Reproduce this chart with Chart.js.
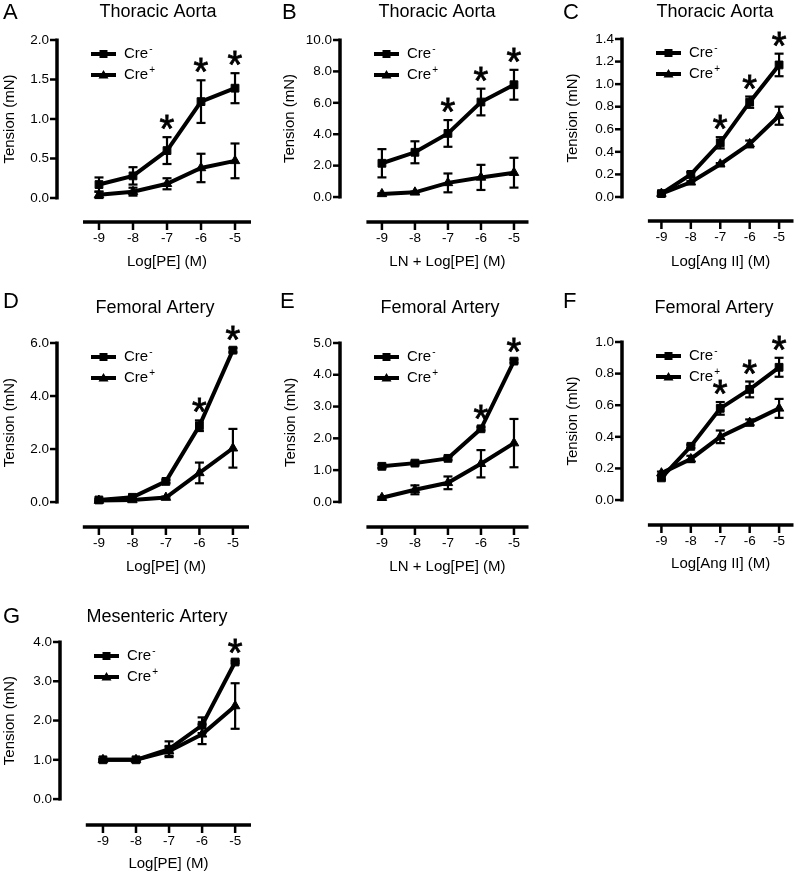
<!DOCTYPE html>
<html>
<head>
<meta charset="utf-8">
<script src="https://cdn.jsdelivr.net/npm/chart.js@4.4.1/dist/chart.umd.min.js"></script>
<style>
    body { margin: 0; background: #fff; }
    #fig { position: relative; width: 800px; height: 872px; overflow: hidden; }
    #fig canvas { position: absolute; }
</style>
</head>
<body>
<div id="fig"></div>
<script>
const doses = [-9, -8, -7, -6, -5];

// A - Thoracic Aorta, PE
const aCreNeg = [0.17, 0.28, 0.60, 1.22, 1.39];
const aCreNegErr = [0.09, 0.11, 0.17, 0.27, 0.19];
const aCrePos = [0.04, 0.08, 0.18, 0.38, 0.47];
const aCrePosErr = [0.04, 0.05, 0.07, 0.18, 0.22];
const aStars = [0, 0, 1, 1, 1];
const aTicks = [0, 0.5, 1.0, 1.5, 2.0];

// B - Thoracic Aorta, LN + PE
const bCreNeg = [2.15, 2.85, 4.05, 6.05, 7.15];
const bCreNegErr = [0.9, 0.7, 0.85, 0.85, 0.95];
const bCrePos = [0.2, 0.3, 0.9, 1.25, 1.55];
const bCrePosErr = [0.05, 0.05, 0.6, 0.8, 0.95];
const bStars = [0, 0, 1, 1, 1];
const bTicks = [0, 2, 4, 6, 8, 10];

// C - Thoracic Aorta, Ang II
const cCreNeg = [0.03, 0.20, 0.48, 0.84, 1.17];
const cCreNegErr = [0.01, 0.02, 0.05, 0.05, 0.10];
const cCrePos = [0.03, 0.13, 0.29, 0.47, 0.72];
const cCrePosErr = [0.01, 0.01, 0.01, 0.03, 0.08];
const cStars = [0, 0, 1, 1, 1];
const cTicks = [0, 0.2, 0.4, 0.6, 0.8, 1.0, 1.2, 1.4];

// D - Femoral Artery, PE
const dCreNeg = [0.08, 0.18, 0.78, 2.88, 5.73];
const dCreNegErr = [0.05, 0.05, 0.06, 0.2, 0.08];
const dCrePos = [0.06, 0.08, 0.17, 1.1, 2.03];
const dCrePosErr = [0.03, 0.04, 0.04, 0.39, 0.73];
const dStars = [0, 0, 0, 1, 1];
const dTicks = [0, 2, 4, 6];

// E - Femoral Artery, LN + PE
const eCreNeg = [1.12, 1.22, 1.37, 2.3, 4.43];
const eCreNegErr = [0.05, 0.05, 0.05, 0.05, 0.05];
const eCrePos = [0.13, 0.38, 0.6, 1.2, 1.85];
const eCrePosErr = [0.03, 0.14, 0.2, 0.43, 0.76];
const eStars = [0, 0, 0, 1, 1];
const eTicks = [0, 1, 2, 3, 4, 5];

// F - Femoral Artery, Ang II
const fCreNeg = [0.14, 0.34, 0.58, 0.70, 0.84];
const fCreNegErr = [0.01, 0.01, 0.04, 0.05, 0.06];
const fCrePos = [0.17, 0.26, 0.40, 0.49, 0.58];
const fCrePosErr = [0.01, 0.02, 0.04, 0.02, 0.06];
const fStars = [0, 0, 1, 1, 1];
const fTicks = [0, 0.2, 0.4, 0.6, 0.8, 1.0];

// G - Mesenteric Artery, PE
const gCreNeg = [1.0, 1.0, 1.27, 1.88, 3.49];
const gCreNegErr = [0.02, 0.02, 0.2, 0.2, 0.03];
const gCrePos = [1.0, 1.0, 1.22, 1.65, 2.37];
const gCrePosErr = [0.02, 0.02, 0.12, 0.25, 0.58];
const gStars = [0, 0, 0, 0, 1];
const gTicks = [0, 1, 2, 3, 4];

const FONT = "'Liberation Sans', Arial, Helvetica, sans-serif";

// layout of each panel (pixels in the 800x872 figure)
const panels = [
    { letter: 'A', title: 'Thoracic Aorta', xTitle: 'Log[PE] (M)',
      neg: aCreNeg, negErr: aCreNegErr, pos: aCrePos, posErr: aCrePosErr, stars: aStars, yTicks: aTicks,
      box: [0, 0, 260, 285], area: [57, 40, 251, 222], xMin: -10.235, xMax: -4.53, xLineFrom: -9.47, yMin: -0.304,
      letterAt: [3, 13], titleAt: [158, 12], yTitleX: 10, xTitleY: 262 },
    { letter: 'B', title: 'Thoracic Aorta', xTitle: 'LN + Log[PE] (M)',
      neg: bCreNeg, negErr: bCreNegErr, pos: bCrePos, posErr: bCrePosErr, stars: bStars, yTicks: bTicks,
      box: [260, 0, 275, 285], area: [340, 40, 533, 222], xMin: -10.27, xMax: -4.56, xLineFrom: -9.47, yMin: -1.59,
      letterAt: [282, 13], titleAt: [437, 12], yTitleX: 290, xTitleY: 262 },
    { letter: 'C', title: 'Thoracic Aorta', xTitle: 'Log[Ang II] (M)',
      neg: cCreNeg, negErr: cCreNegErr, pos: cCrePos, posErr: cCrePosErr, stars: cStars, yTicks: cTicks,
      box: [535, 0, 265, 285], area: [622, 39, 800, 221], xMin: -10.34, xMax: -4.51, xLineFrom: -9.46, yMin: -0.213,
      letterAt: [563, 13], titleAt: [715, 12], yTitleX: 573, xTitleY: 262 },
    { letter: 'D', title: 'Femoral Artery', xTitle: 'Log[PE] (M)',
      neg: dCreNeg, negErr: dCreNegErr, pos: dCrePos, posErr: dCrePosErr, stars: dStars, yTicks: dTicks,
      box: [0, 290, 260, 290], area: [57, 343, 249, 527], xMin: -10.25, xMax: -4.52, xLineFrom: -9.48, yMin: -0.94,
      letterAt: [3, 302], titleAt: [155, 308], yTitleX: 10, xTitleY: 567 },
    { letter: 'E', title: 'Femoral Artery', xTitle: 'LN + Log[PE] (M)',
      neg: eCreNeg, negErr: eCreNegErr, pos: eCrePos, posErr: eCrePosErr, stars: eStars, yTicks: eTicks,
      box: [260, 290, 275, 290], area: [340, 343, 533, 527], xMin: -10.27, xMax: -4.56, xLineFrom: -9.47, yMin: -0.79,
      letterAt: [280, 302], titleAt: [440, 308], yTitleX: 291, xTitleY: 567 },
    { letter: 'F', title: 'Femoral Artery', xTitle: 'Log[Ang II] (M)',
      neg: fCreNeg, negErr: fCreNegErr, pos: fCrePos, posErr: fCrePosErr, stars: fStars, yTicks: fTicks,
      box: [535, 290, 265, 290], area: [622, 342, 800, 525], xMin: -10.34, xMax: -4.51, xLineFrom: -9.46, yMin: -0.158,
      letterAt: [563, 302], titleAt: [714, 308], yTitleX: 573, xTitleY: 564 },
    { letter: 'G', title: 'Mesenteric Artery', xTitle: 'Log[PE] (M)',
      neg: gCreNeg, negErr: gCreNegErr, pos: gCrePos, posErr: gCrePosErr, stars: gStars, yTicks: gTicks,
      box: [0, 580, 260, 292], area: [60, 642, 251, 825], xMin: -10.3, xMax: -4.52, xLineFrom: -9.52, yMin: -0.66,
      letterAt: [3, 617], titleAt: [157, 617], yTitleX: 10, xTitleY: 864 }
];

function strokeLine(ctx, x1, y1, x2, y2) {
    ctx.beginPath();
    ctx.moveTo(x1, y1);
    ctx.lineTo(x2, y2);
    ctx.stroke();
}

function drawMarker(ctx, style, x, y) {
    ctx.beginPath();
    if (style === 'rect') {
        ctx.rect(x - 4, y - 4, 8, 8);
    } else {
        ctx.moveTo(x, y - 5);
        ctx.lineTo(x + 5, y + 3.5);
        ctx.lineTo(x - 5, y + 3.5);
        ctx.closePath();
    }
    ctx.fill();
}

// Prism-style decorations: detached axes, error bars, asterisks, legend, titles
const prismPlugin = {
    id: 'prism',
    afterDatasetsDraw(chart, args, opts) {
        const p = opts.panel;
        const ctx = chart.ctx;
        const xs = chart.scales.x, ys = chart.scales.y;
        ctx.save();
        ctx.strokeStyle = '#000';
        ctx.fillStyle = '#000';
        ctx.lineCap = 'butt';

        // error bars
        [[p.neg, p.negErr], [p.pos, p.posErr]].forEach(([vals, errs]) => {
            vals.forEach((v, i) => {
                const x = xs.getPixelForValue(doses[i]);
                const top = ys.getPixelForValue(v + errs[i]);
                const bot = ys.getPixelForValue(v - errs[i]);
                ctx.lineWidth = 2.2;
                strokeLine(ctx, x, top, x, bot);
                strokeLine(ctx, x - 4.5, top, x + 4.5, top);
                strokeLine(ctx, x - 4.5, bot, x + 4.5, bot);
            });
        });

        // significance asterisks
        ctx.font = `38px ${FONT}`;
        ctx.textAlign = 'center';
        ctx.textBaseline = 'alphabetic';
        ctx.strokeStyle = '#000';
        ctx.lineWidth = 0.8;
        p.stars.forEach((s, i) => {
            if (!s) return;
            const x = xs.getPixelForValue(doses[i]);
            const top = ys.getPixelForValue(p.neg[i] + p.negErr[i]);
            ctx.fillText('*', x, top + 5);
            ctx.strokeText('*', x, top + 5);
        });
        ctx.restore();
    },
    afterDraw(chart, args, opts) {
        const p = opts.panel;
        const ctx = chart.ctx;
        const xs = chart.scales.x, ys = chart.scales.y;
        const area = chart.chartArea;
        const ox = p.box[0], oy = p.box[1];
        ctx.save();
        ctx.strokeStyle = '#000';
        ctx.fillStyle = '#000';

        // y axis
        const yBot = ys.getPixelForValue(p.yTicks[0]);
        const yTop = ys.getPixelForValue(p.yTicks[p.yTicks.length - 1]);
        ctx.lineWidth = 3.5;
        strokeLine(ctx, area.left, yBot + 1.5, area.left, yTop - 1.5);
        ctx.lineWidth = 2.5;
        p.yTicks.forEach(v => {
            const y = ys.getPixelForValue(v);
            strokeLine(ctx, area.left - 7, y, area.left, y);
        });

        // x axis
        const xStart = xs.getPixelForValue(p.xLineFrom);
        ctx.lineWidth = 3.5;
        strokeLine(ctx, xStart, area.bottom, area.right, area.bottom);
        ctx.lineWidth = 2.5;
        doses.forEach(d => {
            const x = xs.getPixelForValue(d);
            strokeLine(ctx, x, area.bottom, x, area.bottom + 8);
        });

        // axis titles
        ctx.font = `15px ${FONT}`;
        ctx.textAlign = 'center';
        ctx.textBaseline = 'middle';
        ctx.fillText(p.xTitle, (xStart + area.right) / 2, p.xTitleY - oy);
        ctx.save();
        ctx.translate(p.yTitleX - ox, (yBot + yTop) / 2);
        ctx.rotate(-Math.PI / 2);
        ctx.fillText('Tension (mN)', 0, 0);
        ctx.restore();

        // legend
        const lx = area.left + 34;
        [['rect', '-', 14], ['triangle', '+', 35]].forEach(([style, sup, dy]) => {
            const ly = area.top + dy;
            ctx.lineWidth = 4;
            strokeLine(ctx, lx, ly, lx + 25, ly);
            drawMarker(ctx, style, lx + 12.5, ly);
            ctx.font = `15px ${FONT}`;
            ctx.textAlign = 'left';
            ctx.textBaseline = 'middle';
            ctx.fillText('Cre', lx + 33, ly);
            const w = ctx.measureText('Cre').width;
            ctx.font = `10px ${FONT}`;
            ctx.fillText(sup, lx + 34 + w, ly - 5);
        });

        // panel letter and title
        ctx.textBaseline = 'middle';
        ctx.textAlign = 'left';
        ctx.font = `22px ${FONT}`;
        ctx.fillText(p.letter, p.letterAt[0] - ox, p.letterAt[1] - oy);
        ctx.textAlign = 'center';
        ctx.font = `18px ${FONT}`;
        ctx.fillText(p.title, p.titleAt[0] - ox, p.titleAt[1] - oy);
        ctx.restore();
    }
};

const fig = document.getElementById('fig');

panels.forEach(p => {
    const [bx, by, bw, bh] = p.box;
    const [al, at, ar, ab] = p.area;
    const canvas = document.createElement('canvas');
    canvas.width = bw;
    canvas.height = bh;
    canvas.style.left = bx + 'px';
    canvas.style.top = by + 'px';
    canvas.style.width = bw + 'px';
    canvas.style.height = bh + 'px';
    fig.appendChild(canvas);

    const yMax = p.yTicks[p.yTicks.length - 1];

    new Chart(canvas.getContext('2d'), {
        type: 'line',
        data: {
            datasets: [
                {
                    label: 'Cre+',
                    data: doses.map((d, i) => ({ x: d, y: p.pos[i] })),
                    borderColor: '#000',
                    backgroundColor: '#000',
                    borderWidth: 4,
                    pointStyle: 'triangle',
                    pointRadius: 5.5,
                    pointBorderWidth: 1,
                    tension: 0
                },
                {
                    label: 'Cre-',
                    data: doses.map((d, i) => ({ x: d, y: p.neg[i] })),
                    borderColor: '#000',
                    backgroundColor: '#000',
                    borderWidth: 4,
                    pointStyle: 'rect',
                    pointRadius: 5.5,
                    pointBorderWidth: 1,
                    tension: 0
                }
            ]
        },
        options: {
            responsive: false,
            animation: false,
            events: [],
            layout: {
                padding: { left: 0, top: at - by, right: bx + bw - ar, bottom: 0 }
            },
            plugins: {
                legend: { display: false },
                tooltip: { enabled: false },
                prism: { panel: p }
            },
            scales: {
                x: {
                    type: 'linear',
                    min: p.xMin,
                    max: p.xMax,
                    grid: { display: false, drawTicks: false },
                    border: { display: false },
                    afterFit: s => { s.height = by + bh - ab; },
                    afterBuildTicks: s => { s.ticks = doses.map(v => ({ value: v })); },
                    ticks: {
                        autoSkip: false,
                        maxRotation: 0,
                        padding: 8,
                        color: '#000',
                        font: { family: FONT, size: 13.5 },
                        callback: v => String(v)
                    }
                },
                y: {
                    type: 'linear',
                    min: p.yMin,
                    max: yMax,
                    grid: { display: false, drawTicks: false },
                    border: { display: false },
                    afterFit: s => { s.width = al - bx; },
                    afterBuildTicks: s => { s.ticks = p.yTicks.map(v => ({ value: v })); },
                    ticks: {
                        autoSkip: false,
                        padding: 8,
                        color: '#000',
                        font: { family: FONT, size: 13.5 },
                        callback: v => Number(v).toFixed(1)
                    }
                }
            }
        },
        plugins: [prismPlugin]
    });
});
</script>
</body>
</html>
